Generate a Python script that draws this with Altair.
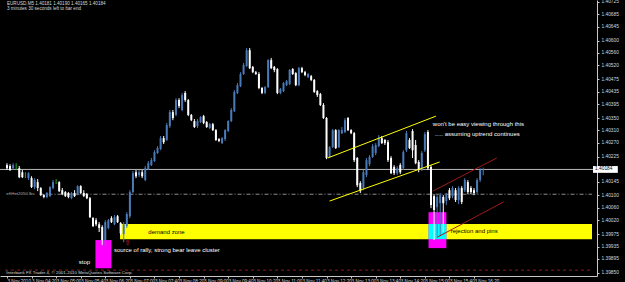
import altair as alt
import pandas as pd

# ---------------- data (EURUSD M5, 3 Nov 2010) ----------------
start_minute = 220          # first bar 03:40
bar_minutes = 5

opens = [1.40198,1.40195,1.40188,1.40195,1.40188,1.40175,1.40166,1.40156,1.40156,1.40127,
         1.40143,1.40124,1.40101,1.40095,1.40098,1.40124,1.40146,1.40143,1.40117,1.40111,
         1.40108,1.40091,1.40108,1.40104,1.40130,1.40108,1.40104,1.40091,1.40027,1.40020,
         1.40007,1.39998,1.39956,1.39995,1.40027,1.40007,1.40033,1.40011,1.39975,1.40001,
         1.40033,1.40111,1.40175,1.40166,1.40175,1.40150,1.40185,1.40198,1.40211,1.40237,
         1.40250,1.40285,1.40279,1.40324,1.40369,1.40360,1.40408,1.40376,1.40431,1.40408,
         1.40360,1.40340,1.40324,1.40337,1.40356,1.40337,1.40318,1.40330,1.40311,1.40282,
         1.40269,1.40282,1.40308,1.40340,1.40372,1.40431,1.40453,1.40492,1.40518,1.40569,
         1.40515,1.40498,1.40492,1.40447,1.40431,1.40450,1.40537,1.40515,1.40508,1.40431,
         1.40437,1.40456,1.40460,1.40508,1.40495,1.40456,1.40511,1.40498,1.40482,1.40485,
         1.40473,1.40437,1.40427,1.40392,1.40350,1.40224,1.40256,1.40311,1.40256,1.40301,
         1.40305,1.40350,1.40311,1.40301,1.40221,1.40140,1.40124,1.40166,1.40201,1.40224,
         1.40237,1.40259,1.40285,1.40279,1.40272,1.40221,1.40192,1.40172,1.40198,1.40188,
         1.40246,1.40279,1.40308,1.40263,1.40208,1.40182,1.40246,1.40305,1.40192,1.40098,
         1.40062,1.40075,1.40095,1.40082,1.40117,1.40098,1.40117,1.40085,1.40124,1.40117,
         1.40143,1.40124,1.40117,1.40111,1.40150,1.40181]
highs = [1.40204,1.40201,1.40204,1.40204,1.40195,1.40182,1.40175,1.40175,1.40162,1.40156,
         1.40153,1.40127,1.40104,1.40111,1.40130,1.40150,1.40153,1.40146,1.40124,1.40114,
         1.40111,1.40111,1.40117,1.40133,1.40133,1.40117,1.40108,1.40095,1.40030,1.40027,
         1.40014,1.40004,1.40020,1.40024,1.40033,1.40037,1.40037,1.40014,1.40014,1.40046,
         1.40117,1.40179,1.40182,1.40182,1.40182,1.40195,1.40211,1.40221,1.40246,1.40259,
         1.40292,1.40292,1.40334,1.40376,1.40376,1.40414,1.40414,1.40431,1.40437,1.40411,
         1.40363,1.40347,1.40347,1.40356,1.40360,1.40340,1.40334,1.40334,1.40314,1.40285,
         1.40288,1.40314,1.40343,1.40382,1.40440,1.40463,1.40498,1.40528,1.40576,1.40576,
         1.40518,1.40502,1.40498,1.40450,1.40453,1.40540,1.40544,1.40518,1.40511,1.40447,
         1.40466,1.40473,1.40508,1.40511,1.40498,1.40515,1.40515,1.40502,1.40495,1.40489,
         1.40476,1.40440,1.40431,1.40398,1.40353,1.40259,1.40314,1.40314,1.40314,1.40321,
         1.40350,1.40353,1.40314,1.40305,1.40224,1.40146,1.40182,1.40221,1.40230,1.40266,
         1.40269,1.40295,1.40292,1.40282,1.40279,1.40227,1.40198,1.40195,1.40204,1.40246,
         1.40308,1.40285,1.40314,1.40279,1.40214,1.40243,1.40305,1.40311,1.40198,1.40104,
         1.40101,1.40108,1.40101,1.40108,1.40124,1.40130,1.40124,1.40130,1.40130,1.40156,
         1.40150,1.40130,1.40124,1.40156,1.40188,1.40190]
lows = [1.40182,1.40179,1.40182,1.40182,1.40156,1.40156,1.40156,1.40150,1.40124,1.40120,
        1.40114,1.40098,1.40091,1.40091,1.40095,1.40120,1.40137,1.40111,1.40101,1.40095,
        1.40091,1.40088,1.40095,1.40101,1.40104,1.40095,1.40088,1.40027,1.39998,1.40001,
        1.39982,1.39940,1.39936,1.39991,1.40011,1.40004,1.40011,1.39972,1.39949,1.39995,
        1.40027,1.40108,1.40156,1.40159,1.40156,1.40146,1.40182,1.40195,1.40208,1.40234,
        1.40246,1.40266,1.40276,1.40318,1.40343,1.40356,1.40382,1.40372,1.40402,1.40356,
        1.40340,1.40318,1.40318,1.40334,1.40330,1.40318,1.40314,1.40308,1.40276,1.40272,
        1.40266,1.40276,1.40305,1.40337,1.40369,1.40427,1.40450,1.40489,1.40515,1.40508,
        1.40495,1.40489,1.40443,1.40427,1.40427,1.40447,1.40508,1.40498,1.40427,1.40427,
        1.40434,1.40453,1.40456,1.40489,1.40453,1.40453,1.40495,1.40485,1.40479,1.40469,
        1.40431,1.40418,1.40389,1.40347,1.40217,1.40221,1.40253,1.40250,1.40253,1.40298,
        1.40301,1.40308,1.40298,1.40208,1.40127,1.40108,1.40117,1.40159,1.40195,1.40221,
        1.40230,1.40256,1.40266,1.40263,1.40208,1.40169,1.40166,1.40166,1.40169,1.40182,
        1.40240,1.40250,1.40221,1.40201,1.40175,1.40179,1.40240,1.40182,1.40059,1.39956,
        1.39962,1.39969,1.39982,1.40069,1.40085,1.40091,1.40079,1.40072,1.40072,1.40111,
        1.40104,1.40104,1.40101,1.40104,1.40143,1.40165]
closes = [1.40188,1.40182,1.40198,1.40195,1.40159,1.40159,1.40166,1.40172,1.40127,1.40150,
          1.40124,1.40101,1.40095,1.40108,1.40127,1.40143,1.40146,1.40114,1.40104,1.40098,
          1.40095,1.40108,1.40098,1.40130,1.40108,1.40098,1.40091,1.40030,1.40001,1.40007,
          1.39995,1.39956,1.40014,1.40020,1.40014,1.40030,1.40014,1.39978,1.40007,1.40040,
          1.40111,1.40172,1.40162,1.40175,1.40162,1.40188,1.40204,1.40214,1.40240,1.40253,
          1.40285,1.40272,1.40327,1.40369,1.40350,1.40408,1.40389,1.40424,1.40408,1.40360,
          1.40343,1.40321,1.40340,1.40353,1.40334,1.40321,1.40330,1.40311,1.40279,1.40276,
          1.40285,1.40311,1.40340,1.40376,1.40434,1.40456,1.40492,1.40521,1.40569,1.40511,
          1.40498,1.40492,1.40447,1.40431,1.40450,1.40537,1.40511,1.40505,1.40431,1.40443,
          1.40463,1.40469,1.40505,1.40492,1.40456,1.40511,1.40498,1.40489,1.40492,1.40473,
          1.40434,1.40424,1.40392,1.40350,1.40221,1.40256,1.40311,1.40253,1.40311,1.40311,
          1.40343,1.40311,1.40301,1.40214,1.40133,1.40114,1.40175,1.40214,1.40224,1.40259,
          1.40263,1.40288,1.40269,1.40269,1.40214,1.40172,1.40172,1.40188,1.40175,1.40240,
          1.40301,1.40253,1.40246,1.40204,1.40182,1.40237,1.40298,1.40188,1.40069,1.40053,
          1.40095,1.40101,1.40075,1.40101,1.40091,1.40124,1.40085,1.40124,1.40079,1.40150,
          1.40111,1.40111,1.40108,1.40150,1.40182,1.40184]

time_tick_values = [220, 260, 300, 340, 380, 420, 460, 500, 540, 580,
                    620, 660, 700, 740, 780, 820, 860, 900, 940, 980]
time_tick_labels = ["3 Nov 2010", "3 Nov 04:20", "3 Nov 05:00", "3 Nov 05:40", "3 Nov 06:20",
                    "3 Nov 07:00", "3 Nov 07:40", "3 Nov 08:20", "3 Nov 09:00", "3 Nov 09:40",
                    "3 Nov 10:20", "3 Nov 11:00", "3 Nov 11:40", "3 Nov 12:20", "3 Nov 13:00",
                    "3 Nov 13:40", "3 Nov 14:20", "3 Nov 15:00", "3 Nov 15:40", "3 Nov 16:20"]
price_ticks = [1.40725, 1.40685, 1.40645, 1.40600, 1.40560, 1.40520, 1.40475, 1.40435,
               1.40395, 1.40350, 1.40310, 1.40270, 1.40225, 1.40145, 1.40100, 1.40060,
               1.40020, 1.39975, 1.39935, 1.39895, 1.39850]

bid_price = 1.40184
level_price = 1.40104
red_level_price = 1.39859

# zones: start time, end time, top price, bottom price, colour
zone_t0 = [404, 364, 906, 906]
zone_t1 = [1172, 390, 935, 935]
zone_p0 = [1.40008, 1.39956, 1.40046, 1.40008]
zone_p1 = [1.39959, 1.39865, 1.39930, 1.39959]
zone_col = ["#ffff00", "#ff00ff", "#ff00ff", "#00ffff"]

# trend lines
line_t0 = [742, 745, 913, 921]
line_t1 = [918, 924, 1017, 1028]
line_p0 = [1.40221, 1.40082, 1.40114, 1.39966]
line_p1 = [1.40356, 1.40208, 1.40221, 1.40079]
line_col = ["#ffff00", "#ffff00", "#a01a1a", "#a01a1a"]

# text notes
note_t = [450, 394, 337, 913, 916, 942]
note_p = [1.39982, 1.39924, 1.39885, 1.40330, 1.40298, 1.39985]
note_s = ["demand zone", "source of rally, strong bear leave cluster", "stop",
          "won't be easy viewing through this", "..... assuming uptrend continues",
          "rejection and pins"]
note_col = ["#000000", "#ffffff", "#ffffff", "#ffffff", "#ffffff", "#000000"]

# ---------------- build tables ----------------
n = len(opens)
times = [start_minute + bar_minutes * i for i in range(n)]
dirs = ["doji" if o == c else ("bull" if c > o else "bear") for o, c in zip(opens, closes)]
bars = pd.DataFrame({"t": times, "o": opens, "h": highs, "l": lows, "c": closes, "dir": dirs})

zones = pd.DataFrame({"t0": zone_t0, "t1": zone_t1, "p0": zone_p0, "p1": zone_p1, "col": zone_col})
lines = pd.DataFrame({"t0": line_t0, "t1": line_t1, "p0": line_p0, "p1": line_p1, "col": line_col})
notes = pd.DataFrame({"t": note_t, "p": note_p, "s": note_s, "col": note_col})

FONT = "Liberation Sans"
label_expr = "[" + ",".join("'%s'" % s for s in time_tick_labels) + "][round((datum.value-220)/40)]"

x_scale = alt.Scale(domain=[216.8, 1172], nice=False, zero=False)
y_scale = alt.Scale(domain=[1.39840, 1.40731], nice=False, zero=False)
x_axis = alt.Axis(values=time_tick_values, labelExpr=label_expr, orient="bottom", title=None,
                  labelAlign="left", labelBaseline="top", labelPadding=0, labelFontSize=4.6,
                  labelColor="#d8d8d8", labelFont=FONT, tickSize=2, tickColor="#c8c8c8",
                  domainColor="#c8c8c8", grid=False, labelFlush=False, labelOverlap=False,
                  labelBound=False)
y_axis = alt.Axis(values=price_ticks, format=".5f", orient="right", title=None,
                  labelFontSize=4.8, labelColor="#d8d8d8", labelFont=FONT, labelPadding=2,
                  tickSize=2, tickColor="#c8c8c8", domainColor="#c8c8c8", grid=False,
                  labelOverlap=False, labelFlush=False, labelBound=False)

def X(f):
    return alt.X(f, type="quantitative", scale=x_scale, axis=x_axis)

def Y(f):
    return alt.Y(f, type="quantitative", scale=y_scale, axis=y_axis)

candle_colors = alt.Scale(domain=["bull", "bear", "doji"], range=["#4a7ab8", "#ffffff", "#22aa22"])

zone_layer = alt.Chart(zones).mark_rect().encode(
    x=X("t0"), x2="t1", y=Y("p0"), y2="p1", color=alt.Color("col:N", scale=None))

bid_line = alt.Chart(pd.DataFrame({"p": [bid_price]})).mark_rule(
    color="#b8b8b8", strokeWidth=1).encode(y=Y("p"))
level_line = alt.Chart(pd.DataFrame({"t0": [273], "t1": [1172], "p": [level_price]})).mark_rule(
    color="#8c8c8c", strokeWidth=1, strokeDash=[4, 2, 1, 2]).encode(x=X("t0"), x2="t1", y=Y("p"))
red_line = alt.Chart(pd.DataFrame({"t0": [216.8], "t1": [1172], "p": [red_level_price]})).mark_rule(
    color="#8b1a1a", strokeWidth=1, strokeDash=[3, 3]).encode(x=X("t0"), x2="t1", y=Y("p"))

wicks = alt.Chart(bars).mark_rule(strokeWidth=1).encode(
    x=X("t"), y=Y("l"), y2="h", color=alt.Color("dir:N", scale=candle_colors, legend=None))
bodies = alt.Chart(bars).mark_bar(size=2).encode(
    x=X("t"), y=Y("o"), y2="c", color=alt.Color("dir:N", scale=candle_colors, legend=None))

trend = alt.Chart(lines).mark_rule(strokeWidth=1).encode(
    x=X("t0"), x2="t1", y=Y("p0"), y2="p1", color=alt.Color("col:N", scale=None))

note_layer = alt.Chart(notes).mark_text(align="left", baseline="middle", font=FONT, fontSize=6).encode(
    x=X("t"), y=Y("p"), text="s:N", color=alt.Color("col:N", scale=None))

arrow = alt.Chart(pd.DataFrame({"t": [416], "p": [1.39946], "s": ["⇧"]})).mark_text(
    color="#e02020", fontSize=7, font="DejaVu Sans", baseline="middle").encode(x=X("t"), y=Y("p"), text="s:N")

header = alt.Chart(pd.DataFrame({
    "t": [220, 220],
    "p": [1.40718, 1.40702],
    "s": ["EURUSD,M5  1.40181 1.40190 1.40165 1.40184", "3 minutes 30 seconds left to bar end"]})
).mark_text(align="left", baseline="middle", font=FONT, fontSize=4.6, color="#d8d8d8").encode(
    x=X("t"), y=Y("p"), text="s:N")

level_label = alt.Chart(pd.DataFrame({"t": [219], "p": [level_price], "s": ["eftHet2050 lbs"]})).mark_text(
    align="left", baseline="middle", font=FONT, fontSize=4.4, color="#b0b0b0").encode(
    x=X("t"), y=Y("p"), text="s:N")

copyright_txt = alt.Chart(pd.DataFrame({"t": [219], "p": [1.39850],
    "s": ["Interbank FX Trader 4, © 2001-2010 MetaQuotes Software Corp."]})).mark_text(
    align="left", baseline="middle", font=FONT, fontSize=4.4, color="#d8d8d8").encode(
    x=X("t"), y=Y("p"), text="s:N")

price_box = alt.Chart(pd.DataFrame({"t0": [1173.6], "t1": [1214], "p0": [bid_price + 0.00011],
                                    "p1": [bid_price - 0.00011]})).mark_rect(color="#ffffff").encode(
    x=X("t0"), x2="t1", y=Y("p0"), y2="p1")
price_txt = alt.Chart(pd.DataFrame({"t": [1177], "p": [bid_price], "s": ["%.5f" % bid_price]})).mark_text(
    align="left", baseline="middle", font=FONT, fontSize=4.8, color="#000000").encode(
    x=X("t"), y=Y("p"), text="s:N")

chart = alt.layer(
    zone_layer, bid_line, level_line, red_line, wicks, bodies, trend,
    note_layer, arrow, header, level_label, copyright_txt, price_box, price_txt
).properties(
    width=597, height=276,
    autosize=alt.AutoSizeParams(type="none"),
    padding={"left": 0, "right": 28, "top": 0, "bottom": 6},
    background="#000000",
).configure_view(stroke=None, fill="#000000")

chart.save("out.html", embed_options={"renderer": "svg", "actions": False})
